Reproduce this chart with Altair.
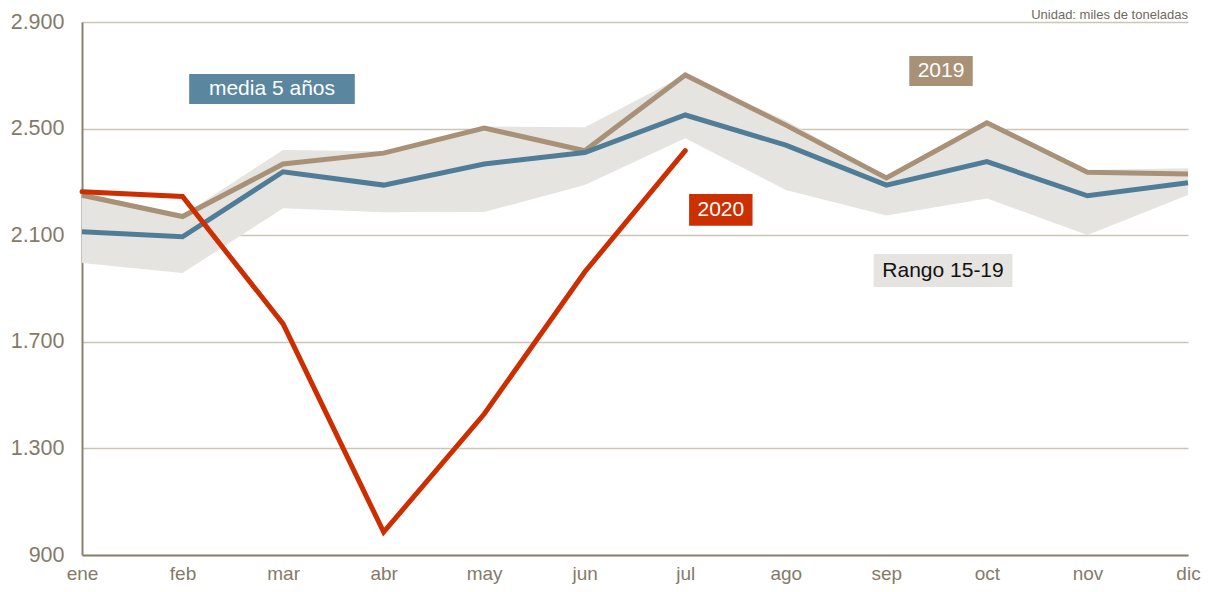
import altair as alt
import pandas as pd

months = ["ene", "feb", "mar", "abr", "may", "jun", "jul", "ago", "sep", "oct", "nov", "dic"]
serie_2019 = [2250, 2170, 2367, 2408, 2502, 2417, 2701, 2513, 2315, 2522, 2336, 2330]
media_5 = [2113, 2094, 2338, 2288, 2367, 2410, 2551, 2438, 2288, 2376, 2248, 2297]
serie_2020 = [2263, 2245, 1767, 986, 1429, 1962, 2417]
rango_max = [2262, 2175, 2420, 2415, 2508, 2505, 2701, 2530, 2320, 2522, 2345, 2351]
rango_min = [1996, 1958, 2201, 2186, 2187, 2288, 2464, 2270, 2174, 2238, 2101, 2251]

# annotation boxes (month-index / value units)
ann_text = ["media 5 años", "2019", "2020", "Rango 15-19"]
ann_x1 = [1.066, 8.228, 6.038, 7.873]
ann_x2 = [2.713, 8.859, 6.669, 9.254]
ann_y1 = [2592, 2660, 2135, 1906]
ann_y2 = [2705, 2772, 2255, 2029]
ann_fill = ["#5a86a0", "#a89176", "#cc2f00", "#e6e4e0"]
ann_txtcolor = ["#ffffff", "#ffffff", "#ffffff", "#111111"]

idx = list(range(12))
df = pd.DataFrame({"i": idx, "m": months, "s2019": serie_2019, "media": media_5,
                   "rmin": rango_min, "rmax": rango_max})
df20 = pd.DataFrame({"i": idx[:len(serie_2020)], "v": serie_2020})
ann = pd.DataFrame({"t": ann_text, "x1": ann_x1, "x2": ann_x2, "y1": ann_y1, "y2": ann_y2,
                    "fill": ann_fill, "tc": ann_txtcolor})
ann["xc"] = (ann["x1"] + ann["x2"]) / 2
ann["yc"] = (ann["y1"] + ann["y2"]) / 2

labexpr = "[" + ",".join("'%s'" % m for m in months) + "][datum.value]"

xenc = alt.X("i:Q", scale=alt.Scale(domain=[0, 11], nice=False, zero=False),
             axis=alt.Axis(values=idx, labelExpr=labexpr, grid=False, ticks=False,
                           domainColor="#8a8270", domainWidth=2, labelColor="#857a6a",
                           labelFontSize=19, labelPadding=9, labelFlush=False,
                           labelOverlap=False, labelBound=False, title=None))
yscale = alt.Scale(domain=[900, 2900], nice=False, zero=False)
yaxis = alt.Axis(values=[900, 1300, 1700, 2100, 2500, 2900],
                 labelExpr="replace(format(datum.value, ','), ',', '.')",
                 grid=True, gridColor="#cbc5b6", gridWidth=1.5, ticks=False,
                 domainColor="#8a8270", domainWidth=2, labelColor="#857a6a",
                 labelFontSize=21.5, labelPadding=18, labelFlush=False, title=None)

base = alt.Chart(df)
band = base.mark_area(color="#e6e4e0", opacity=1).encode(
    x=xenc, y=alt.Y("rmin:Q", scale=yscale, axis=yaxis), y2="rmax:Q")
l19 = base.mark_line(color="#a89176", strokeWidth=5, strokeJoin="miter").encode(
    x="i:Q", y="s2019:Q")
lmed = base.mark_line(color="#4f7c97", strokeWidth=5, strokeJoin="miter").encode(
    x="i:Q", y="media:Q")
l20 = alt.Chart(df20).mark_line(color="#cc2e00", strokeWidth=5, strokeCap="round",
                                strokeJoin="miter").encode(x="i:Q", y="v:Q")

boxes = alt.Chart(ann).mark_rect().encode(
    x="x1:Q", x2="x2:Q", y="y1:Q", y2="y2:Q",
    color=alt.Color("fill:N", scale=None))
texts = alt.Chart(ann).mark_text(fontSize=21, align="center", baseline="middle").encode(
    x="xc:Q", y="yc:Q", text="t:N", color=alt.Color("tc:N", scale=None))

unidad = alt.Chart(pd.DataFrame({"t": ["Unidad: miles de toneladas"]})).mark_text(
    fontSize=13, align="right", baseline="top", color="#6f6a60").encode(
    x=alt.value(1106), y=alt.value(-13), text="t:N")

chart = alt.layer(band, l19, lmed, l20, boxes, texts, unidad).properties(
    width=1106, height=533,
    autosize=alt.AutoSizeParams(type="none"),
    padding={"left": 74, "top": 14, "right": 15, "bottom": 29},
).configure(font="Liberation Sans").configure_view(stroke=None)

chart.save("out.html", embed_options={"renderer": "svg", "actions": False})
